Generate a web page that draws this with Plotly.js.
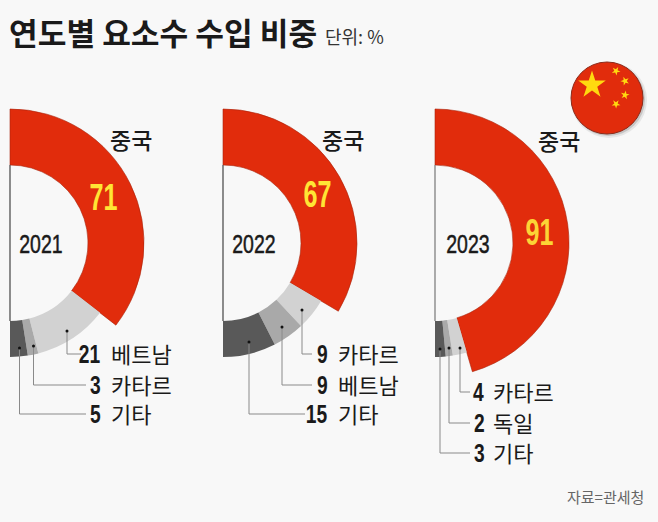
<!DOCTYPE html>
<html><head><meta charset="utf-8">
<script src="https://cdn.plot.ly/plotly-3.0.1.min.js"></script>
<style>html,body{margin:0;padding:0;width:658px;height:522px;overflow:hidden;background:#f8f8f8}
#chart{position:absolute;left:-130px;top:0;width:788px;height:522px}</style>
</head><body><div id="chart"></div>
<script>
// ---- data ----
const years = ['2021','2022','2023'];
const chinaLabel = '중국';
const chinaValues = [71,67,91];
const lightValues = [21,9,4];
const midValues = [3,9,2];
const darkValues = [5,15,3];
const lightNames = ['베트남','카타르','카타르'];
const midNames = ['카타르','베트남','독일'];
const darkNames = ['기타','기타','기타'];
// ---- page geometry (px) ----
const S=130, TW=788, H=522;
const centerX=[10,223,435], centerY=243, Rred=134, Rgrey=114, Rin=78;
const px=x=>(x+S)/TW, py=y=>1-y/H;
const RED='#e12c0c', LIGHT='#d2d2d2', MID='#a9a9a9', DARK='#595959', INK='#1a1a1a';
const KR='"Noto Sans CJK KR","Noto Sans",sans-serif', NUM='"Liberation Sans",sans-serif';
const T='rgba(0,0,0,0)';
const dom=(cx,r)=>({x:[px(cx-r),px(cx+r)],y:[py(centerY+r),py(centerY-r)]});
const traces=[];
years.forEach((yr,i)=>{
  const base={type:'pie',sort:false,direction:'clockwise',rotation:0,textinfo:'none',hoverinfo:'skip',showlegend:false};
  traces.push({...base,values:[chinaValues[i],100-chinaValues[i]+100],hole:Rin/Rred,domain:dom(centerX[i],Rred),
    marker:{colors:[RED,T],line:{width:[0.6,0],color:['#a8250d',T]}}});
  traces.push({...base,values:[chinaValues[i],lightValues[i],midValues[i],darkValues[i],100],hole:Rin/Rgrey,domain:dom(centerX[i],Rgrey),
    marker:{colors:[T,LIGHT,MID,DARK,T],line:{width:0}}});
});
// leader lines: [dotX,dotY,elbowY,endX] per year, light/mid/dark
const leaders=[
 [[67,331,354,81],[33.5,346,385,86],[19.5,348,414,86]],
 [[302,310,354,312],[282,327,385,312],[249,342,414,305]],
 [[460,348,392,470],[449,348,423,470],[440,349,453,470]]
];
const numRight=[100,327,484], nameLeft=[110,337,492];
const chinaPos=[[131,138.5],[343,138.5],[559,140.5]];
const valuePos=[[103.5,197],[317,194],[539,232]];
const yearPos=[[41,244],[254,244],[467.5,244]];
const yellow=['#ffe535','#ffe535','#fcd436'];
const shapes=[],annotations=[],squeeze={},heavy={};
const ann=(x,y,text,size,family,color,anchor,extra)=>{annotations.push({xref:'paper',yref:'paper',x:px(x),y:py(y),text,showarrow:false,xanchor:anchor,yanchor:'middle',borderpad:0,font:{size,family,color,...(extra||{})}});return annotations.length-1;};
years.forEach((yr,i)=>{
  const cx=centerX[i];
  shapes.push({type:'line',xref:'paper',yref:'paper',x0:px(cx),x1:px(cx),y0:py(centerY-Rin),y1:py(centerY+Rin),line:{color:i==2?'#777':'#444',width:1.2}});
  leaders[i].forEach((l,j)=>{
    shapes.push({type:'path',xref:'paper',yref:'paper',path:`M${px(l[0])},${py(l[1])}L${px(l[0])},${py(l[2])}L${px(l[3])},${py(l[2])}`,line:{color:'#8a8a8a',width:1}});
    shapes.push({type:'circle',xref:'paper',yref:'paper',x0:px(l[0]-1.5),x1:px(l[0]+1.5),y0:py(l[1]+1.5),y1:py(l[1]-1.5),fillcolor:'#111',line:{width:0}});
    const v=[lightValues,midValues,darkValues][j][i], n=[lightNames,midNames,darkNames][j][i];
    const digits=String(v).length;
    squeeze[ann(numRight[i]-digits*5.1,l[2],'<b>'+v+'</b>',26,NUM,INK,'center')]=0.74;
    ann(nameLeft[i],l[2]-1,n,22,KR,INK,'left');
  });
  ann(chinaPos[i][0],chinaPos[i][1],chinaLabel,23,KR,INK,'center',{weight:500});
  squeeze[ann(valuePos[i][0],valuePos[i][1],'<b>'+chinaValues[i]+'</b>',37,NUM,yellow[i],'center')]=0.68;
  const yi=ann(yearPos[i][0],yearPos[i][1],yr,26,NUM,INK,'center');
  squeeze[yi]=0.75; heavy[yi]=true;
});
ann(8,31,'<b>연도별 요소수 수입 비중</b>',31.2,KR,INK,'left');
ann(324,36,'단위: %',18,KR,'#333','left');
ann(645,496,'자료=관세청',15,KR,'#666','right');
// flag
const fx=607,fy=98,fr=36;
const circle=(cx,cy,r,fill,line)=>({type:'circle',xref:'paper',yref:'paper',x0:px(cx-r),x1:px(cx+r),y0:py(cy+r),y1:py(cy-r),fillcolor:fill,line:line||{width:0}});
shapes.push(circle(fx+2,fy+2,fr+2,'rgba(0,0,0,0.07)'),circle(fx+1.5,fy+1.5,fr+0.5,'rgba(0,0,0,0.14)'),circle(fx,fy,fr,RED,{color:'#8c2a1a',width:1}));
const star=(cx,cy,r,rot)=>{let p='';for(let k=0;k<10;k++){const a=rot+k*Math.PI/5,q=k%2?r*0.382:r;p+=(k?'L':'M')+px(cx+q*Math.sin(a))+','+py(cy-q*Math.cos(a));}return p+'Z';};
[[592,85,14.5,0],[616,71,4.6,0.5],[625,81,4.6,0.9],[625,95,4.6,0.2],[616,104,4.6,0.6]].forEach(s=>shapes.push({type:'path',xref:'paper',yref:'paper',path:star(s[0],s[1],s[2],s[3]),fillcolor:'#ffd90f',line:{width:0}}));
Plotly.newPlot('chart',traces,{width:TW,height:H,margin:{l:0,r:0,t:0,b:0},paper_bgcolor:'#f8f8f8',plot_bgcolor:'#f8f8f8',showlegend:false,shapes,annotations},{staticPlot:true,displayModeBar:false}).then(()=>{
  // the reference digits are a condensed face: narrow them horizontally
  document.querySelectorAll('#chart .annotation').forEach(g=>{
    const idx=+g.getAttribute('data-index');
    const k=squeeze[idx];
    if(!k) return;
    const t=g.querySelector('text');
    const x=+t.getAttribute('x');
    t.setAttribute('transform',`translate(${x},0) scale(${k},1) translate(${-x},0)`);
    if(heavy[idx]){t.style.stroke=INK;t.style.strokeWidth='0.5px';}
  });
});
</script></body></html>
